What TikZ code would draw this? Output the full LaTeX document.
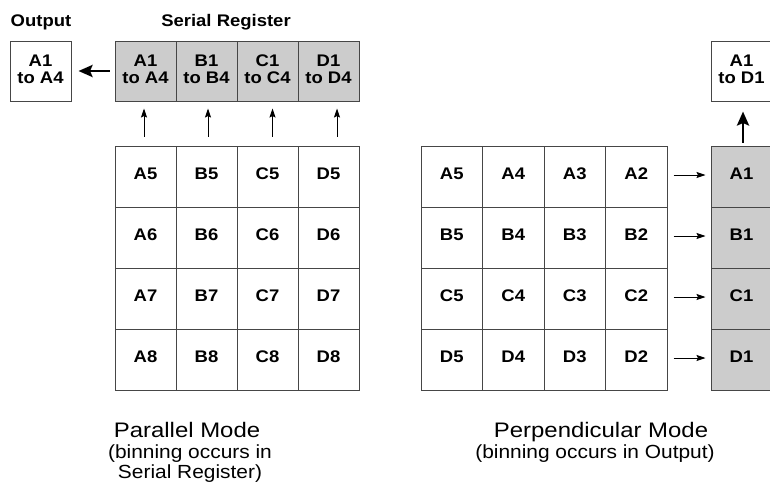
\documentclass[tikz,border=0pt]{standalone}
\usepackage{fontspec}
\setmainfont{Liberation Sans}
\newfontfamily\widefont[FakeStretch=1.1]{Liberation Sans}
\newfontfamily\midfont[FakeStretch=1.1]{Liberation Sans}
\newfontfamily\titlefont[FakeStretch=1.14]{Liberation Sans}
\usetikzlibrary{arrows.meta}
\definecolor{lineC}{RGB}{70,70,70}
\definecolor{regfill}{RGB}{204,204,204}
\newcommand{\lowstrut}{\rule[-3.6pt]{0pt}{0pt}}
\tikzset{
  boxbase/.style={draw=lineC, line width=1pt, inner sep=0pt,
    font=\widefont\bfseries\fontsize{16.8}{16.5}\selectfont},
  cell/.style={boxbase, minimum width=61pt, minimum height=61pt,
    text height=12pt, text depth=6pt},
  regbase/.style={boxbase, fill=regfill, minimum width=61pt, minimum height=60pt, align=center},
  regcell/.style={boxbase, fill=regfill, minimum width=61pt, minimum height=61pt,
    text height=12pt, text depth=6pt},
  outbox/.style={boxbase, fill=white, minimum width=61pt, minimum height=60pt, align=center},
  head/.style={anchor=base, inner sep=0pt, font=\widefont\bfseries\fontsize{16.8}{16.5}\selectfont},
  modetitle/.style={anchor=base, inner sep=0pt, font=\titlefont\fontsize{21}{21}\selectfont},
  modesub/.style={anchor=base, inner sep=0pt, font=\midfont\fontsize{19}{19}\selectfont},
  smallarrow/.style={line width=0.9pt, -{Stealth[length=9pt,width=6pt,inset=1.5pt]}},
  bigarrow/.style={line width=2.8pt, -{Stealth[length=14pt,width=12pt,inset=2.5pt]}}
}
\begin{document}
\begin{tikzpicture}[x=1pt, y=-1pt]
\useasboundingbox (0,0) rectangle (770,482);
\clip (0,0) rectangle (770,482);

% headers
\node[head] (hOut) at (41,26) {Output};
\node[head] (hSer) at (226,26) {Serial Register};

% output boxes
\node[outbox] (OL) at (40.5,71) {A1\\to A4\lowstrut};
\node[outbox] (OR) at (741.5,71) {A1\\to D1\lowstrut};

% serial register (parallel mode)
\foreach \L [count=\c] in {A,B,C,D} {
  \node[regbase] (S\L) at ({115+61*(\c-0.5)},71) {\L1\\to \L4\lowstrut};
}

% parallel-mode grid
\foreach \L [count=\c] in {A,B,C,D} {
  \foreach \n in {5,6,7,8} {
    \node[cell] (L\L\n) at ({115+61*(\c-0.5)},{146+61*(\n-5+0.5)}) {\L\n};
  }
}

% perpendicular-mode grid and register
\foreach \L [count=\r] in {A,B,C,D} {
  \foreach \n [count=\c] in {5,4,3,2} {
    \node[cell, minimum width=61.5pt] (R\L\n) at ({421+61.5*(\c-0.5)},{146+61*(\r-0.5)}) {\L\n};
  }
  \node[regcell] (P\L) at (741.5,{146+61*(\r-0.5)}) {\L1};
}

% arrows
\foreach \L/\dx in {A/-1.5,B/1.5,C/5,D/8.5} {
  \draw[smallarrow, shorten <=9pt, shorten >=7pt] ([xshift=\dx pt]L\L5.north) -- ([xshift=\dx pt]S\L.south);
}
\foreach \L in {A,B,C,D} {
  \draw[smallarrow, shorten <=6pt, shorten >=5pt] ([yshift=1.5pt]R\L2.east) -- ([yshift=1.5pt]P\L.west);
}
\draw[bigarrow, shorten <=5pt, shorten >=7pt] (SA.west) -- (OL.east);
\draw[bigarrow, shorten <=3pt, shorten >=10pt] ([xshift=1.5pt]PA.north) -- ([xshift=1.5pt]OR.south);

% captions
\node[modetitle] (pm1) at (187,437) {Parallel Mode};
\node[modesub] (pm2) at (190,458) {(binning occurs in};
\node[modesub] (pm3) at (190,478) {Serial Register)};
\node[modetitle] (qm1) at (601,437) {Perpendicular Mode};
\node[modesub] (qm2) at (595,458) {(binning occurs in Output)};
\end{tikzpicture}
\end{document}
